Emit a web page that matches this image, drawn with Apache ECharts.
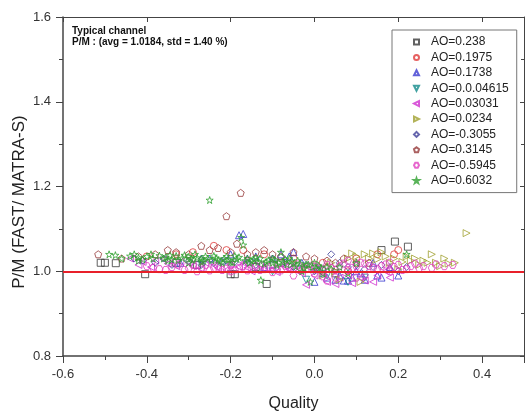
<!DOCTYPE html>
<html>
<head>
<meta charset="utf-8">
<script src="https://cdn.jsdelivr.net/npm/echarts@6/dist/echarts.min.js"></script>
<style>html,body{margin:0;padding:0;background:#fff;}#c{width:526px;height:414px;}</style>
</head>
<body>
<div id="c"></div>
<script>
var xTicks = [-0.6, -0.4, -0.2, 0.0, 0.2, 0.4];
var yTicks = [0.8, 1.0, 1.2, 1.4, 1.6];
var seriesNames = ['AO=0.238','AO=0.1975','AO=0.1738','AO=0.0.04615','AO=0.03031','AO=0.0234','AO=-0.3055','AO=0.3145','AO=-0.5945','AO=0.6032'];

var ao0238 = [[-0.51,1.02],[-0.5,1.02],[-0.474,1.019],[-0.404,0.993],[-0.33,1.02],[-0.28,1.015],[-0.2,0.993],[-0.19,0.993],[-0.114,0.97],[-0.14,1.01],[0.05,0.995],[0.16,1.05],[0.192,1.07],[0.223,1.058],[-0.08,1.02]];
var ao01975 = [[-0.29,1.045],[-0.24,1.06],[-0.17,1.05],[-0.12,1.04],[-0.05,1.03],[0.02,1.02],[0.08,1.0],[0.2,1.05],[-0.4,1.035],[-0.33,1.04],[-0.21,1.05],[0.1,1.03],[0.15,1.04],[0.19,1.04]];
var ao01738 = [[-0.27,1.03],[-0.18,1.085],[-0.22,1.025],[-0.14,1.035],[-0.10,1.03],[-0.06,1.035],[-0.03,1.02],[0.01,1.005],[0.03,0.985],[0.05,0.98],[0.07,0.978],[0.09,0.985],[0.12,0.98],[0.15,0.99],[0.18,1.01],[0.2,0.99],[-0.12,1.01],[0.0,0.975],[0.1,1.0],[-0.05,1.045],[0.14,1.02],[-0.32,1.02],[-0.25,1.03],[-0.2,1.04],[-0.16,1.03],[-0.08,1.04],[0.02,0.995],[0.06,0.99],[0.08,0.978],[0.11,0.995],[0.16,0.985],[-0.17,1.088]];
var ao004615 = [[-0.02,0.98],[0.03,0.99],[0.08,0.975],[-0.1,1.0],[0.12,0.985]];
var ao003031 = [[-0.44,1.03],[-0.41,1.022],[-0.38,1.025],[-0.35,1.018],[-0.33,1.012],[-0.30,1.02],[-0.27,1.006],[-0.24,1.015],[-0.21,1.003],[-0.18,1.01],[-0.15,1.0],[-0.12,1.006],[-0.09,0.998],[-0.06,1.004],[-0.03,0.995],[0.0,0.99],[0.03,0.975],[0.06,0.985],[0.09,0.972],[0.12,0.978],[0.15,0.99],[-0.02,0.968],[0.0,1.01],[-0.17,1.02],[0.17,1.0],[-0.42,1.015],[-0.39,1.01],[-0.36,1.028],[-0.32,1.022],[-0.29,1.012],[-0.26,1.02],[-0.23,1.008],[-0.2,1.016],[-0.16,1.008],[-0.13,1.015],[-0.1,1.005],[-0.07,1.012],[-0.04,1.0],[0.02,0.995],[0.05,0.97],[0.08,0.99],[0.11,0.985],[0.14,0.975],[0.18,0.985]];
var ao00234 = [[0.08,1.03],[0.10,1.035],[0.12,1.04],[0.14,1.042],[0.15,1.028],[0.17,1.035],[0.19,1.03],[0.21,1.022],[0.23,1.025],[0.25,1.015],[0.28,1.04],[0.30,1.012],[0.32,1.018],[0.363,1.09],[0.04,1.02],[0.06,0.98],[0.11,0.975],[0.2,1.005],[0.27,1.02],[-0.02,1.01],[0.09,1.042],[0.13,1.03],[0.16,1.045],[0.18,1.02],[0.22,1.035],[0.24,1.03],[0.26,1.025],[0.29,1.02],[0.31,1.03],[0.335,1.02],[0.05,1.0],[0.02,0.99]];
var aoM03055 = [[-0.43,1.03],[-0.38,1.02],[-0.34,1.015],[-0.3,1.025],[-0.24,1.02],[-0.19,1.022],[-0.14,1.015],[-0.1,1.03],[-0.05,1.01],[0.0,1.0],[0.04,1.04],[0.08,1.01],[0.12,1.005],[0.16,1.015],[0.2,1.0],[0.22,1.01],[-0.41,1.025],[-0.36,1.03],[-0.27,1.015],[-0.21,1.025],[-0.16,1.02],[-0.07,1.02],[-0.02,1.015],[0.02,1.005],[0.06,1.02],[0.1,1.015],[0.14,1.01],[0.18,1.005]];
var ao03145 = [[-0.516,1.04],[-0.46,1.03],[-0.38,1.04],[-0.35,1.05],[-0.30,1.04],[-0.21,1.13],[-0.176,1.185],[-0.23,1.055],[-0.20,1.045],[-0.16,1.04],[-0.12,1.05],[-0.08,1.035],[-0.05,1.045],[0.0,1.03],[0.05,1.02],[0.1,1.02],[-0.27,1.06],[-0.42,1.035],[-0.33,1.045],[-0.25,1.05],[-0.185,1.065],[-0.14,1.045],[-0.1,1.04],[-0.02,1.035],[0.03,1.025],[0.07,1.03],[0.13,1.02]];
var aoM05945 = [[-0.40,1.012],[-0.37,1.005],[-0.34,1.01],[-0.31,1.003],[-0.29,1.015],[-0.27,1.008],[-0.25,1.002],[-0.23,1.011],[-0.21,1.006],[-0.19,1.004],[-0.17,1.012],[-0.15,1.007],[-0.13,1.003],[-0.11,1.01],[-0.09,1.005],[-0.07,1.013],[-0.05,1.007],[-0.03,1.002],[-0.01,1.012],[0.01,1.006],[0.03,1.015],[0.05,1.003],[0.07,1.018],[0.09,1.008],[0.11,1.02],[0.13,1.012],[0.15,1.005],[0.17,1.016],[0.19,1.01],[0.21,1.003],[0.23,1.012],[0.25,1.007],[0.28,1.008],[0.31,1.012],[0.33,1.015],[0.0,0.995],[0.05,0.985],[0.12,0.99],[-0.2,1.0],[-0.1,0.998],[0.08,1.025],[0.18,1.0],[0.03,0.978],[-0.385,1.008],[-0.355,1.003],[-0.325,1.016],[-0.3,1.007],[-0.28,1.0],[-0.26,1.015],[-0.24,1.008],[-0.22,1.003],[-0.2,1.014],[-0.18,1.008],[-0.16,1.002],[-0.14,1.012],[-0.12,1.005],[-0.1,1.015],[-0.08,1.002],[-0.06,1.01],[-0.04,1.016],[-0.02,1.005],[0.0,1.01],[0.02,1.0],[0.04,1.008],[0.06,1.012],[0.08,1.003],[0.1,1.012],[0.12,1.018],[0.14,1.008],[0.16,1.012],[0.18,1.02],[0.2,1.015],[0.22,1.005],[0.24,1.018],[0.26,1.012],[0.29,1.016],[0.02,0.988],[0.1,0.985],[-0.05,0.99]];
var ao06032 = [[-0.49,1.04],[-0.475,1.038],[-0.44,1.036],[-0.42,1.032],[-0.40,1.035],[-0.385,1.03],[-0.37,1.037],[-0.355,1.033],[-0.34,1.028],[-0.33,1.036],[-0.315,1.031],[-0.30,1.034],[-0.29,1.027],[-0.28,1.032],[-0.27,1.029],[-0.26,1.035],[-0.25,1.168],[-0.245,1.026],[-0.235,1.031],[-0.225,1.024],[-0.215,1.03],[-0.205,1.027],[-0.195,1.021],[-0.185,1.029],[-0.175,1.08],[-0.17,1.062],[-0.165,1.025],[-0.155,1.02],[-0.145,1.028],[-0.135,1.022],[-0.128,0.979],[-0.12,1.018],[-0.11,1.026],[-0.10,1.02],[-0.09,1.015],[-0.08,1.045],[-0.075,1.022],[-0.065,1.016],[-0.055,1.024],[-0.045,1.012],[-0.035,1.019],[-0.025,1.008],[-0.015,1.016],[-0.005,1.01],[0.005,1.005],[-0.01,0.975],[-0.30,1.02],[-0.35,1.025],[-0.22,1.02],[-0.14,1.032],[-0.06,1.03],[-0.42,1.025],[-0.27,1.022],[-0.19,1.036],[-0.10,1.03],[0.01,1.013],[0.02,0.995],[-0.03,1.0],[-0.46,1.03],[-0.43,1.04],[-0.41,1.028],[-0.39,1.04],[-0.36,1.03],[-0.345,1.038],[-0.325,1.026],[-0.31,1.038],[-0.295,1.03],[-0.285,1.04],[-0.265,1.025],[-0.255,1.03],[-0.24,1.036],[-0.23,1.027],[-0.21,1.035],[-0.2,1.022],[-0.18,1.033],[-0.16,1.03],[-0.15,1.024],[-0.13,1.03],[-0.115,1.022],[-0.095,1.027],[-0.085,1.02],[-0.07,1.028],[-0.05,1.018],[-0.04,1.025],[-0.02,1.015],[0.0,1.02],[0.015,1.008],[0.03,1.01],[0.04,1.005],[0.06,1.01],[0.08,0.995],[0.22,1.04],[0.1,1.02]];
var refLine = 1.0;

var allData = [ao0238, ao01975, ao01738, ao004615, ao003031, ao00234, aoM03055, ao03145, aoM05945, ao06032];
var colors = ['#3a3a3a','#e03a3a','#3a3ad0','#108a8a','#d030d0','#a0a030','#404098','#963a3a','#e040c0','#30a030'];
var symbols = [
  'rect',
  'circle',
  'triangle',
  'path://M0,0 L10,0 L5,10 Z',
  'path://M10,0 L10,10 L0,5 Z',
  'path://M0,0 L0,10 L10,5 Z',
  'diamond',
  'path://M5,0 L10,3.8 L8.1,10 L1.9,10 L0,3.8 Z',
  'path://M2.5,0 L7.5,0 L10,5 L7.5,10 L2.5,10 L0,5 Z',
  'path://M5,0 L6.2,3.6 L10,3.6 L6.9,5.9 L8.1,9.5 L5,7.3 L1.9,9.5 L3.1,5.9 L0,3.6 L3.8,3.6 Z'
];

var series = seriesNames.map(function(n, i){
  var s = {
    name: n, type: 'scatter', data: allData[i],
    symbol: symbols[i], symbolSize: 7,
    itemStyle: {color: 'rgba(255,255,255,0)', borderColor: colors[i], borderWidth: 1},
    emphasis: {disabled: true}
  };
  if (i === 0) {
    s.markLine = {silent: true, symbol: 'none', label: {show: false},
      lineStyle: {color: '#e8202a', width: 2, type: 'solid'},
      data: [{yAxis: refLine}]};
  }
  return s;
});

var chart = echarts.init(document.getElementById('c'), null, {renderer: 'canvas'});
var fontF = 'Liberation Sans, Arial, sans-serif';
chart.setOption({
  animation: false,
  backgroundColor: '#fff',
  grid: {left: 63, right: 2, top: 17, bottom: 58, containLabel: false, outerBoundsMode: 'none'},
  legend: {
    orient: 'vertical', left: 392, top: 30, width: 125,
    data: seriesNames,
    borderColor: '#777', borderWidth: 1, padding: [6, 8, 6, 21],
    itemWidth: 5, itemHeight: 5, itemGap: 3.4,
    textStyle: {fontFamily: fontF, fontSize: 12, lineHeight: 12, color: '#222', padding: [0,0,0,7]},
    backgroundColor: '#fff'
  },
  graphic: [
    {type: 'text', left: 72, top: 26, style: {text: 'Typical channel', font: 'bold 10px ' + fontF, fill: '#111'}},
    {type: 'text', left: 72, top: 37, style: {text: 'P/M : (avg = 1.0184, std = 1.40 %)', font: 'bold 10px ' + fontF, fill: '#111'}},
    {type: 'text', x: 19, y: 202, rotation: Math.PI / 2,
      style: {text: 'P/M (FAST/ MATRA-S)', font: '17px ' + fontF, fill: '#222', align: 'center', verticalAlign: 'middle'}}
  ],
  xAxis: [{
    type: 'value', min: -0.6, max: 0.5, interval: 0.2,
    name: 'Quality', nameLocation: 'middle', nameGap: 40,
    nameTextStyle: {fontFamily: fontF, fontSize: 16, color: '#222'},
    axisLine: {show: true, onZero: false, lineStyle: {color: '#444', width: 1.5}},
    axisTick: {show: true, inside: false, length: 7, lineStyle: {color: '#444'}},
    minorTick: {show: true, splitNumber: 2, length: 4, lineStyle: {color: '#444'}},
    splitLine: {show: false},
    axisLabel: {fontFamily: fontF, fontSize: 13, color: '#333', margin: 12,
      formatter: function(v){ return Math.abs(v - 0.5) < 1e-6 ? '' : v.toFixed(1); }}
  }, {
    type: 'value', min: -0.6, max: 0.5, interval: 0.2, position: 'top',
    axisLine: {show: true, onZero: false, lineStyle: {color: '#444', width: 1}},
    axisTick: {show: true, inside: true, length: 5, lineStyle: {color: '#444'}},
    minorTick: {show: false}, splitLine: {show: false}, axisLabel: {show: false}
  }],
  yAxis: [{
    type: 'value', min: 0.8, max: 1.6, interval: 0.2,
    axisLine: {show: true, onZero: false, lineStyle: {color: '#444', width: 1.5}},
    axisTick: {show: true, inside: false, length: 7, lineStyle: {color: '#444'}},
    minorTick: {show: true, splitNumber: 2, length: 4, lineStyle: {color: '#444'}},
    splitLine: {show: false},
    axisLabel: {fontFamily: fontF, fontSize: 13, color: '#333', margin: 12,
      formatter: function(v){ return v.toFixed(1); }}
  }, {
    type: 'value', min: 0.8, max: 1.6, interval: 0.2, position: 'right',
    axisLine: {show: true, onZero: false, lineStyle: {color: '#444', width: 1}},
    axisTick: {show: true, inside: true, length: 4, lineStyle: {color: '#444'}},
    minorTick: {show: true, splitNumber: 2, length: 3, lineStyle: {color: '#444'}},
    splitLine: {show: false}, axisLabel: {show: false}
  }],
  series: series
});
</script>
</body>
</html>
